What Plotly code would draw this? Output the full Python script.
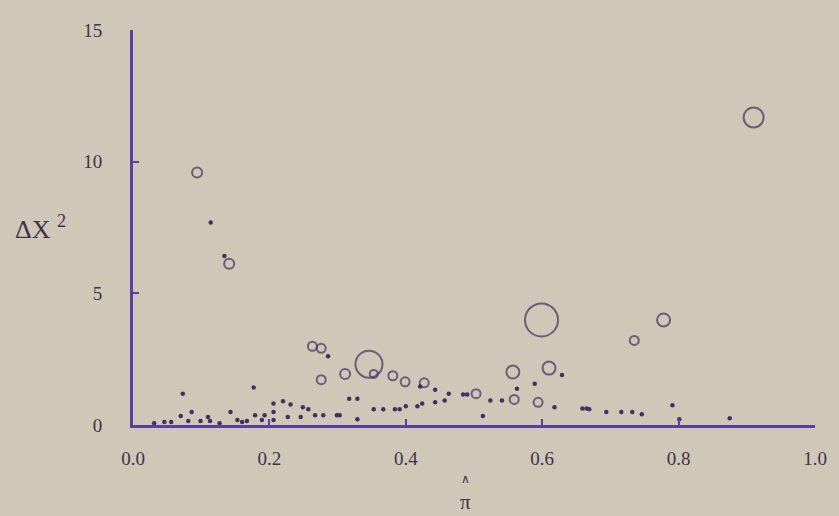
import plotly.graph_objects as go

# Open circles: fitted probability, delta chi-square, relative influence (bubble size)
circle_pi = [0.094, 0.141, 0.263, 0.276, 0.276, 0.311, 0.346, 0.353, 0.381, 0.399,
             0.427, 0.503, 0.557, 0.559, 0.594, 0.599, 0.610, 0.735, 0.778, 0.910]
circle_dx2 = [9.59, 6.12, 2.99, 2.91, 1.72, 1.94, 2.31, 1.94, 1.87, 1.64,
              1.60, 1.19, 2.01, 0.97, 0.86, 3.99, 2.16, 3.21, 3.99, 11.68]
circle_infl = [10, 10, 9, 9, 9, 10, 27, 8, 9, 9,
               9, 9, 13, 9, 9, 33, 13, 9, 13, 20]

# Small dots
dot_pi = [0.073, 0.177, 0.086, 0.070, 0.081, 0.099, 0.110, 0.113, 0.127, 0.143,
          0.153, 0.160, 0.167, 0.179, 0.189, 0.193, 0.206, 0.206, 0.206, 0.046,
          0.056, 0.031, 0.114, 0.134, 0.286, 0.317, 0.329, 0.220, 0.231, 0.227,
          0.249, 0.257, 0.246, 0.267, 0.279, 0.299, 0.303, 0.329, 0.353, 0.367,
          0.384, 0.391, 0.400, 0.417, 0.424, 0.421, 0.443, 0.463, 0.443, 0.457,
          0.484, 0.490, 0.524, 0.541, 0.563, 0.513, 0.589, 0.629, 0.618, 0.659,
          0.665, 0.669, 0.694, 0.716, 0.732, 0.746, 0.791, 0.801, 0.875]
dot_dx2 = [1.19, 1.42, 0.49, 0.34, 0.15, 0.15, 0.30, 0.15, 0.07, 0.49,
           0.19, 0.11, 0.15, 0.37, 0.19, 0.37, 0.82, 0.49, 0.19, 0.11,
           0.11, 0.07, 7.69, 6.42, 2.61, 1.00, 1.00, 0.90, 0.78, 0.30,
           0.67, 0.60, 0.30, 0.37, 0.37, 0.37, 0.37, 0.22, 0.60, 0.60,
           0.60, 0.60, 0.71, 0.71, 0.82, 1.46, 1.34, 1.19, 0.86, 0.93,
           1.16, 1.16, 0.93, 0.93, 1.38, 0.34, 1.57, 1.90, 0.67, 0.63,
           0.63, 0.60, 0.49, 0.49, 0.49, 0.41, 0.75, 0.22, 0.26]

x_ticks = [0.0, 0.2, 0.4, 0.6, 0.8, 1.0]
x_tick_labels = ["0.0", "0.2", "0.4", "0.6", "0.8", "1.0"]
y_ticks = [0, 5, 10, 15]
y_tick_labels = ["0", "5", "10", "15"]

mark_col = "#3f3160"
axis_col = "#5a3ea0"
text_col = "#3e3448"
bg = "#cfc7b7"
font_fam = "Liberation Serif, Times New Roman, serif"

fig = go.Figure()
fig.add_trace(go.Scatter(
    x=dot_pi, y=dot_dx2, mode="markers",
    marker=dict(symbol="circle", size=4.5, color=mark_col),
    showlegend=False, hoverinfo="x+y"))
fig.add_trace(go.Scatter(
    x=circle_pi, y=circle_dx2, mode="markers",
    marker=dict(symbol="circle-open", size=circle_infl, color=mark_col,
                line=dict(width=2, color=mark_col)),
    showlegend=False, hoverinfo="x+y"))

fig.update_layout(
    width=831, height=508,
    paper_bgcolor=bg, plot_bgcolor=bg,
    margin=dict(l=125, r=16, t=14, b=91),
    font=dict(family=font_fam, size=19, color=text_col),
    xaxis=dict(range=[0, 1], tickvals=x_ticks, ticktext=x_tick_labels,
               showgrid=False, zeroline=False, showline=True,
               linecolor=axis_col, linewidth=3, ticks="inside",
               ticklen=6, tickwidth=1.5, tickcolor=axis_col,
               ticklabelstandoff=14),
    yaxis=dict(range=[0, 15], tickvals=y_ticks, ticktext=y_tick_labels,
               showgrid=False, zeroline=False, showline=True,
               linecolor=axis_col, linewidth=3, ticks="inside",
               ticklen=6, tickwidth=1.5, tickcolor=axis_col,
               ticklabelstandoff=24),
    annotations=[
        dict(text="ΔX <sup>2</sup>", xref="paper", yref="paper",
             x=-0.135, y=0.50, xanchor="center", yanchor="middle",
             showarrow=False,
             font=dict(family=font_fam, size=26, color=text_col)),
        dict(text="∧", xref="paper", yref="paper",
             x=0.488, y=-0.136, xanchor="center", yanchor="middle",
             showarrow=False,
             font=dict(family=font_fam, size=12, color=text_col)),
        dict(text="π", xref="paper", yref="paper",
             x=0.488, y=-0.196, xanchor="center", yanchor="middle",
             showarrow=False,
             font=dict(family=font_fam, size=21, color=text_col)),
    ],
)

fig.write_html("out.html",
               post_script="document.body.style.background='%s';" % bg)
